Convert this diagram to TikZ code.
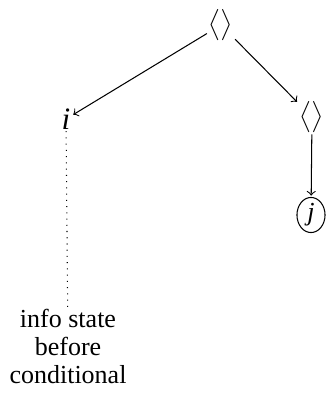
\documentclass[tikz,border=0pt]{standalone}
\usepackage{fontspec}
\setmainfont{Liberation Serif}
\usetikzlibrary{shapes.geometric}
\begin{document}
\begin{tikzpicture}[x=0.3846pt,y=-0.3846pt,
  every node/.style={font=\fontsize{10}{10.8}\selectfont},
  lab/.style={inner sep=0.5pt},
  edge/.style={->,shorten >=0.5pt}]
\useasboundingbox (0,0) rectangle (326,395);
\node[lab] (top) at (221,25) {$\big\langle\big\rangle$};
\node[lab,font=\fontsize{12}{13}\selectfont] (i) at (66,119) {\itshape i};
\node[lab] (r) at (312,117) {$\big\langle\big\rangle$};
\node[draw,ellipse,inner sep=0pt,minimum width=10.8pt,minimum height=13.5pt] (j) at (311,215) {\itshape j};
\node[align=center,anchor=north,inner sep=0pt] (txt) at (68,309) {info state\\before\\conditional};
\draw[edge] (top) -- (i);
\draw[edge] (top) -- (r);
\draw[edge] (r) -- (j);
\draw[dotted] (i) -- (txt);
\end{tikzpicture}
\end{document}
